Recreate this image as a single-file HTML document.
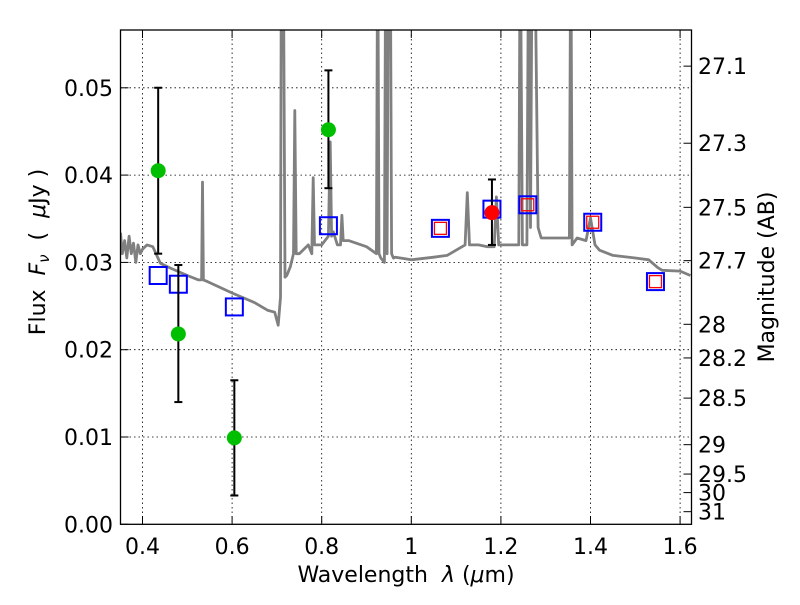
<!DOCTYPE html>
<html><head><meta charset="utf-8"><style>
body{margin:0;background:#fff;}
svg text{font-family:"DejaVu Sans","Liberation Sans",sans-serif;fill:#000;white-space:pre;}
</style></head><body>
<svg id="chart" width="800" height="600" xmlns="http://www.w3.org/2000/svg">
<defs><clipPath id="clip"><rect x="120.5" y="30" width="571" height="494.3"/></clipPath></defs>
<rect width="800" height="600" fill="#fff"/>
<g id="grid"></g>
<g id="spec" clip-path="url(#clip)"></g>
<g id="marks" clip-path="url(#clip)"></g>
<rect x="120.5" y="30" width="571" height="494.3" fill="none" stroke="#000" stroke-width="1.3"/>
<g id="axes"></g>
<text x="406" y="582" font-size="22" text-anchor="middle">Wavelength&#160;&#160;<tspan font-style="italic">λ</tspan> (<tspan font-style="italic">μ</tspan>m)</text>
<text transform="translate(45,252) rotate(-90)" font-size="22" text-anchor="middle">Flux&#160;&#160;<tspan font-style="italic">F</tspan><tspan font-size="15" dy="4" font-style="italic">ν</tspan><tspan dy="-4">&#160;&#160;(&#160;&#160;<tspan font-style="italic">μ</tspan>Jy )</tspan></text>
<text transform="translate(774,277) rotate(-90)" font-size="22" text-anchor="middle">Magnitude (AB)</text>
</svg>
<script>
const xTicks=[0.4,0.6,0.8,1.0,1.2,1.4,1.6];
const xTickLabels=["0.4","0.6","0.8","1","1.2","1.4","1.6"];
const yTicks=[0,0.01,0.02,0.03,0.04,0.05];
const yTickLabels=["0.00","0.01","0.02","0.03","0.04","0.05"];
const magTicks=[27.1,27.3,27.5,27.7,28,28.2,28.5,29,29.5,30,31];
const specWave=[0.351,0.355,0.36,0.365,0.37,0.375,0.38,0.385,0.39,0.395,0.40,0.41,0.423,0.44,0.46,0.50,0.525,0.532,0.534,0.536,0.545,0.60,0.65,0.68,0.695,0.703,0.708,0.710,0.714,0.718,0.722,0.73,0.737,0.740,0.743,0.75,0.77,0.778,0.781,0.784,0.80,0.815,0.819,0.822,0.826,0.835,0.842,0.845,0.848,0.86,0.90,0.922,0.925,0.928,0.932,0.94,0.943,0.946,0.949,0.953,0.956,0.96,0.965,1.0,1.05,1.08,1.10,1.12,1.125,1.13,1.15,1.17,1.185,1.19,1.195,1.22,1.24,1.243,1.248,1.258,1.262,1.266,1.27,1.275,1.283,1.29,1.33,1.35,1.353,1.356,1.359,1.37,1.39,1.40,1.41,1.42,1.45,1.50,1.53,1.55,1.56,1.60,1.623];
const specFlux=[0.0334,0.031,0.0325,0.0305,0.033,0.031,0.0322,0.0300,0.032,0.031,0.0315,0.032,0.0318,0.0299,0.0294,0.0285,0.028,0.028,0.0392,0.028,0.0278,0.0265,0.0254,0.0245,0.0243,0.0228,0.026,0.07,0.07,0.0283,0.0285,0.0295,0.031,0.0474,0.031,0.031,0.032,0.031,0.0397,0.032,0.032,0.033,0.0438,0.033,0.0335,0.032,0.032,0.0354,0.0325,0.0325,0.0318,0.031,0.07,0.031,0.0305,0.030,0.07,0.031,0.07,0.07,0.031,0.0305,0.0306,0.0303,0.0306,0.0308,0.0314,0.032,0.038,0.032,0.032,0.0318,0.0318,0.0375,0.032,0.032,0.032,0.07,0.032,0.032,0.07,0.034,0.07,0.07,0.034,0.0328,0.0328,0.0328,0.0328,0.07,0.032,0.0328,0.0325,0.0351,0.032,0.0314,0.0308,0.0305,0.0303,0.0294,0.0291,0.029,0.0285];
const gWave=[0.435,0.48,0.605,0.815];
const gFlux=[0.0405,0.0218,0.0099,0.0452];
const gLo=[0.031,0.014,0.0033,0.0385];
const gHi=[0.050,0.0297,0.0165,0.052];
const rWave=[1.18];
const rFlux=[0.0357];
const rLo=[0.032];
const rHi=[0.0395];
const bWave=[0.435,0.48,0.605,0.815,1.065,1.18,1.26,1.405,1.545];
const bFlux=[0.0285,0.0275,0.0249,0.0342,0.0339,0.0361,0.0366,0.0346,0.0278];
const mWave=[1.065,1.26,1.405,1.545];
const mFlux=[0.0339,0.0366,0.0346,0.0278];

const NS="http://www.w3.org/2000/svg";
const X=w=>142.5+(w-0.4)*448;
const Y=f=>524.3-f*8730;
function mk(t,a,p){const e=document.createElementNS(NS,t);for(const k in a)e.setAttribute(k,a[k]);p.appendChild(e);return e;}
const grid=document.getElementById('grid'),axes=document.getElementById('axes');
xTicks.forEach((v,i)=>{const x=X(v);
 const g=mk('line',{x1:x,x2:x,y1:30,y2:524.3,stroke:'#000','stroke-width':0.8,'stroke-dasharray':'1.5,3'},grid);
 
 
 mk('line',{x1:x,x2:x,y1:524.3,y2:516,stroke:'#000','stroke-width':1},axes);
 mk('line',{x1:x,x2:x,y1:30,y2:38,stroke:'#000','stroke-width':1},axes);
 const t=mk('text',{x:x,y:554,'font-size':22,'text-anchor':'middle'},axes);t.textContent=xTickLabels[i];
 
 
});
yTicks.forEach((v,i)=>{const y=Y(v);
 if(v>0){const g=mk('line',{x1:120.5,x2:691.5,y1:y,y2:y,stroke:'#000','stroke-width':0.8,'stroke-dasharray':'1.5,3'},grid);
 
 }
 mk('line',{x1:120.5,x2:128.5,y1:y,y2:y,stroke:'#000','stroke-width':1},axes);
 const t=mk('text',{x:113,y:y+8,'font-size':22,'text-anchor':'end'},axes);t.textContent=yTickLabels[i];
 
 
});
magTicks.forEach(m=>{const y=Y(Math.pow(10,(23.9-m)/2.5));
 mk('line',{x1:683.5,x2:691.5,y1:y,y2:y,stroke:'#000','stroke-width':1},axes);
 const t=mk('text',{x:698,y:y+8,'font-size':22},axes);t.textContent=String(m);
 
 
});
const spec=document.getElementById('spec');
const pts=specWave.map((w,i)=>X(w).toFixed(1)+','+Y(specFlux[i]).toFixed(1)).join(' ');
const pl=mk('polyline',{points:pts,fill:'none',stroke:'#808080','stroke-width':2.8,'stroke-linejoin':'round'},spec);


const marks=document.getElementById('marks');
function errbar(w,lo,hi){const x=X(w);
 mk('line',{x1:x,x2:x,y1:Y(lo),y2:Y(hi),stroke:'#000','stroke-width':2},marks);
 mk('line',{x1:x-4,x2:x+4,y1:Y(lo),y2:Y(lo),stroke:'#000','stroke-width':2},marks);
 mk('line',{x1:x-4,x2:x+4,y1:Y(hi),y2:Y(hi),stroke:'#000','stroke-width':2},marks);}
bWave.forEach((w,i)=>{const s=mk('rect',{x:X(w)-8.5,y:Y(bFlux[i])-8.5,width:17,height:17,fill:'none',stroke:'#0000ff','stroke-width':2},marks);
 
 });
mWave.forEach((w,i)=>{const s=mk('rect',{x:X(w)-6,y:Y(mFlux[i])-6,width:12,height:12,fill:'none',stroke:'#ff0000','stroke-width':1.3},marks);
 
 });
gWave.forEach((w,i)=>{errbar(w,gLo[i],gHi[i]);
 const c=mk('circle',{cx:X(w),cy:Y(gFlux[i]),r:7.5,fill:'#00bf00'},marks);
 
 });
rWave.forEach((w,i)=>{errbar(w,rLo[i],rHi[i]);
 const c=mk('circle',{cx:X(w),cy:Y(rFlux[i]),r:7.5,fill:'#ff0000'},marks);
 
 });
</script>
</body></html>
